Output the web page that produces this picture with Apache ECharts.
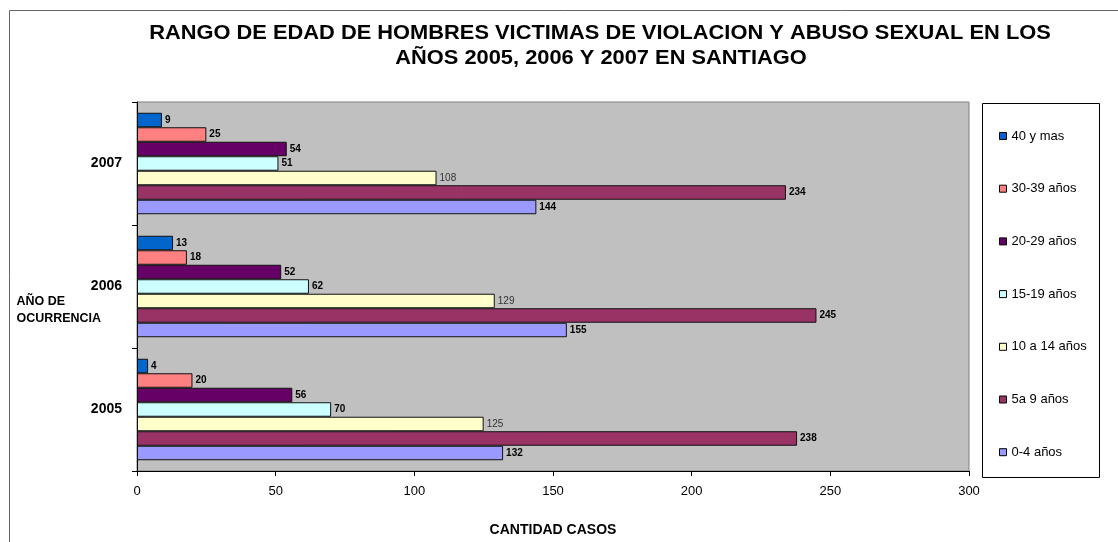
<!DOCTYPE html>
<html>
<head>
<meta charset="utf-8">
<script src="https://cdn.jsdelivr.net/npm/echarts@6/dist/echarts.min.js"></script>
<style>
html,body{margin:0;padding:0;background:#fff;}
#c{width:1118px;height:542px;}
</style>
</head>
<body>
<div id="c"></div>
<script>
var years = ['2005', '2006', '2007'];
var seriesNames = ['40 y mas', '30-39 años', '20-29 años', '15-19 años', '10 a 14 años', '5a 9 años', '0-4 años'];
var v40mas = [4, 13, 9];
var v30_39 = [20, 18, 25];
var v20_29 = [56, 52, 54];
var v15_19 = [70, 62, 51];
var v10_14 = [125, 129, 108];
var v5_9 = [238, 245, 234];
var v0_4 = [132, 155, 144];
var xTicks = [0, 50, 100, 150, 200, 250, 300];
var titleLines = ['RANGO DE EDAD DE HOMBRES VICTIMAS DE VIOLACION Y ABUSO SEXUAL EN LOS', 'AÑOS 2005, 2006 Y 2007 EN SANTIAGO'];

var seriesValues = [v40mas, v30_39, v20_29, v15_19, v10_14, v5_9, v0_4];
var colors = ['#0066CC', '#FF8080', '#660066', '#CCFFFF', '#FFFFCC', '#993366', '#9999FF'];
var FONT = '"Liberation Sans", Arial, sans-serif';

var chart = echarts.init(document.getElementById('c'));
var series = seriesNames.map(function (n, i) {
  var normal = (n === '10 a 14 años');
  return {
    name: n,
    type: 'bar',
    data: seriesValues[i],
    barGap: '0%',
    barCategoryGap: '17.5%',
    itemStyle: { color: colors[i], borderColor: '#111', borderWidth: 1 },
    label: {
      show: true, position: 'right', distance: 3,
      fontFamily: FONT, fontSize: 10,
      fontWeight: normal ? 'normal' : 'bold',
      color: normal ? '#333' : '#000'
    },
    emphasis: { disabled: true },
    animation: false
  };
});

chart.setOption({
  animation: false,
  textStyle: { fontFamily: FONT },
  graphic: [
    { type: 'rect', shape: { x: 9.5, y: 10.5, width: 1200, height: 600 }, style: { fill: 'none', stroke: '#666', lineWidth: 1 }, silent: true, z: -10 },
    { type: 'rect', shape: { x: 982.5, y: 103.5, width: 117, height: 374 }, style: { fill: '#fff', stroke: '#000', lineWidth: 1 }, silent: true, z: 0 },
    { type: 'text', x: 600, y: 34, scaleX: 1.12, style: { text: titleLines[0], font: 'bold 19.5px ' + FONT, fill: '#000', textAlign: 'center', textVerticalAlign: 'middle' }, silent: true },
    { type: 'text', x: 601, y: 59, scaleX: 1.12, style: { text: titleLines[1], font: 'bold 19.5px ' + FONT, fill: '#000', textAlign: 'center', textVerticalAlign: 'middle' }, silent: true },
    { type: 'text', x: 16.5, y: 302, scaleX: 1.04, style: { text: 'AÑO DE', font: 'bold 12px ' + FONT, fill: '#000', textAlign: 'left', textVerticalAlign: 'middle' }, silent: true },
    { type: 'text', x: 16.5, y: 319, scaleX: 1.04, style: { text: 'OCURRENCIA', font: 'bold 12px ' + FONT, fill: '#000', textAlign: 'left', textVerticalAlign: 'middle' }, silent: true }
  ],
  legend: {
    orient: 'vertical',
    left: 994, top: 124,
    itemWidth: 7, itemHeight: 7, itemGap: 38.7,
    icon: 'rect',
    itemStyle: { borderColor: '#000', borderWidth: 1 },
    textStyle: { fontFamily: FONT, fontSize: 13, color: '#000', lineHeight: 14 },
    data: seriesNames,
    selectedMode: false,
    z: 5
  },
  grid: {
    left: 137, right: 149, top: 102, bottom: 71,
    show: true, backgroundColor: '#C0C0C0', borderColor: '#808080', borderWidth: 1,
    containLabel: false
  },
  xAxis: {
    type: 'value', min: xTicks[0], max: xTicks[xTicks.length - 1], interval: 50,
    splitLine: { show: false },
    axisLine: { show: true, lineStyle: { color: '#000', width: 1 } },
    axisTick: { show: true, length: 5, lineStyle: { color: '#000' } },
    axisLabel: { fontFamily: FONT, fontSize: 13, color: '#000', margin: 14 },
    name: 'CANTIDAD CASOS', nameLocation: 'middle', nameGap: 52,
    nameTextStyle: { fontFamily: FONT, fontSize: 14, fontWeight: 'bold', color: '#000' }
  },
  yAxis: {
    type: 'category', data: years,
    axisLine: { show: true, lineStyle: { color: '#000', width: 1 } },
    axisTick: { show: true, length: 5, alignWithLabel: false, lineStyle: { color: '#000' } },
    axisLabel: { fontFamily: FONT, fontSize: 14, fontWeight: 'bold', color: '#000', margin: 15 },
    splitLine: { show: false }
  },
  series: series
});
</script>
</body>
</html>
